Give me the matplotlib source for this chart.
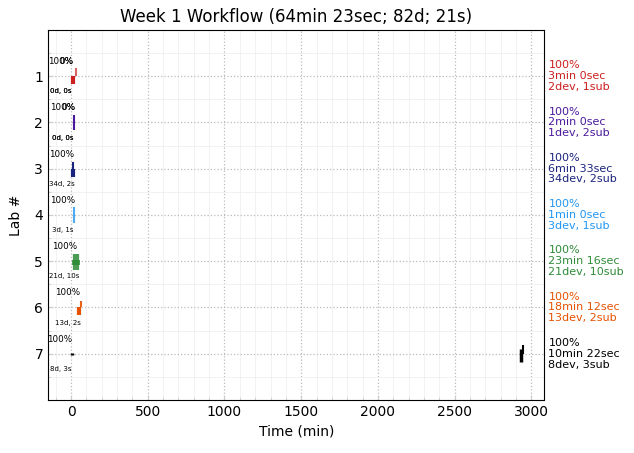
import matplotlib
matplotlib.use("Agg")
import matplotlib.pyplot as plt
from matplotlib.ticker import MultipleLocator

labs = [1, 2, 3, 4, 5, 6, 7]
colors = ["#cc1f1f", "#4a1a9c", "#1a237e", "#2196f3", "#2e8b38", "#e65100", "#000000"]
pct = ["100%"] * 7
durations = ["3min 0sec", "2min 0sec", "6min 33sec", "1min 0sec", "23min 16sec", "18min 12sec", "10min 22sec"]
devs = [2, 1, 34, 3, 21, 13, 8]
subs = [1, 2, 2, 1, 10, 2, 3]
dev_secs = [0, 0, 2, 1, 10, 2, 3]
# overlapping labels seen on labs 1 and 2
extra_pct = {1: "0%", 2: "0%"}
extra_ds = {1: "0d, 0s", 2: "0d, 0s"}
# segments per lab: (time in min, y offset start, y offset end, linewidth, alpha)
segments = [
    [(10, 0.0, 0.17, 3.0, 1.0), (33, -0.17, 0.0, 1.5, 0.7)],
    [(22, -0.15, 0.17, 1.5, 1.0)],
    [(14, -0.15, 0.0, 1.5, 1.0), (14, 0.0, 0.18, 3.0, 1.0)],
    [(22, -0.17, 0.17, 1.5, 0.8)],
    [(35, -0.15, 0.19, 4.5, 0.85), (33, -0.03, 0.08, 5.5, 1.0)],
    [(65, -0.15, 0.0, 1.5, 0.9), (55, 0.0, 0.17, 3.0, 1.0)],
    [(5, -0.02, 0.02, 2.5, 1.0), (2930, -0.1, 0.17, 2.5, 1.0), (2945, -0.18, 0.0, 1.5, 1.0)],
]
title = "Week 1 Workflow (64min 23sec; 82d; 21s)"

fig = plt.figure(figsize=(6.34, 4.53), dpi=100)
ax = fig.add_axes([0.0757, 0.117, 0.783, 0.817])

for lab, col, segs, d, s in zip(labs, colors, segments, devs, dev_secs):
    for t, y0, y1, lw, a in segs:
        ax.vlines(t, lab + y0, lab + y1, colors=col, linewidth=lw, alpha=a)
    start = min(sg[0] for sg in segs)
    ax.text(start + 5, lab - 0.22, "100%", fontsize=6.3, ha="right", va="bottom")
    ds = extra_ds.get(lab, f"{d}d, {s}s")
    ax.text(start - 75, lab + 0.33, ds, fontsize=5, ha="center", va="center")
    if lab in extra_pct:
        ax.text(start + 5, lab - 0.22, extra_pct[lab], fontsize=6.3, ha="right", va="bottom")
        ax.text(start - 75, lab + 0.33, ds, fontsize=5, ha="center", va="center")

for lab, col, p, du, d, sb in zip(labs, colors, pct, durations, devs, subs):
    ax.text(1.008, lab, f"{p}\n{du}\n{d}dev, {sb}sub", transform=ax.get_yaxis_transform(),
            color=col, fontsize=8, ha="left", va="center", linespacing=1.1)

ax.set_xlim(-150, 3085)
ax.set_ylim(8, 0)
ax.set_yticks(labs)
ax.set_xticks([0, 500, 1000, 1500, 2000, 2500, 3000])
ax.xaxis.set_minor_locator(MultipleLocator(100))
ax.yaxis.set_minor_locator(MultipleLocator(0.5))
ax.grid(True, which="major", linestyle=":", color="#bbbbbb", linewidth=0.9)
ax.grid(True, which="minor", linestyle="-", color="#f0f0f0", linewidth=0.6)
ax.set_axisbelow(True)
ax.tick_params(which="both", direction="in", color="#cccccc")
ax.set_xlabel("Time (min)")
ax.set_ylabel("Lab #", labelpad=8)
ax.set_title(title)
fig.savefig("out.png", dpi=100)
